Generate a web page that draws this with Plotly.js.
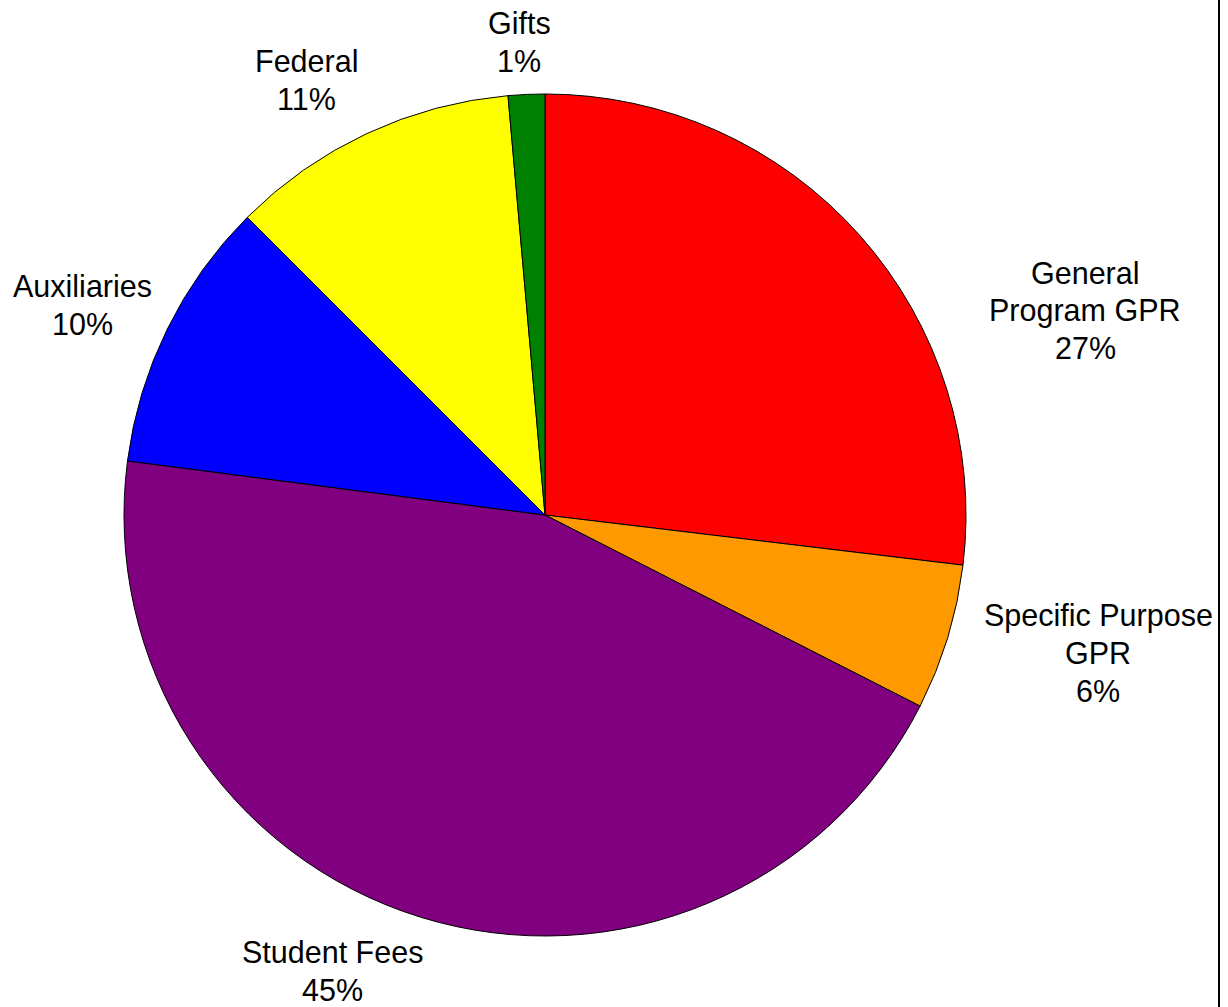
<!DOCTYPE html>
<html>
<head>
<meta charset="utf-8">
<script src="https://cdn.plot.ly/plotly-3.0.1.min.js"></script>
<style>
  html, body { margin: 0; padding: 0; background: #fff; }
  #chart { width: 1228px; height: 1007px; }
</style>
</head>
<body>
<div id="chart"></div>
<script>
// Data
const labels = ["General<br>Program GPR", "Specific Purpose<br>GPR", "Student Fees", "Auxiliaries", "Federal", "Gifts"];
const values = [26.9, 5.6, 44.55, 10.45, 11.1, 1.4];
const colors = ["#ff0000", "#ff9900", "#800080", "#0000ff", "#ffff00", "#008000"];

// Label placement (pixels in the 1228x1007 page, centre of label block)
const labelPos = [
  [1085, 310],
  [1098, 653],
  [332, 971],
  [82, 305],
  [306, 80],
  [519, 42]
];

const W = 1228, H = 1007;
const LINE = 37.5;
const total = values.reduce((a, b) => a + b, 0);

const annotations = [];
labels.forEach((lab, i) => {
  const lines = lab.split('<br>').concat([Math.round(values[i] * 100 / total) + '%']);
  const n = lines.length;
  lines.forEach((ln, k) => {
    const py = labelPos[i][1] + (k - (n - 1) / 2) * LINE;
    annotations.push({
      xref: 'paper', yref: 'paper',
      x: labelPos[i][0] / W,
      y: 1 - py / H,
      xanchor: 'center', yanchor: 'middle',
      text: ln,
      showarrow: false,
      font: { family: 'Liberation Sans, Arial, sans-serif', size: 30.5, color: '#000' }
    });
  });
});

const cx = 545, cy = 515, r = 421;

const trace = {
  type: 'pie',
  labels: labels,
  values: values,
  sort: false,
  direction: 'clockwise',
  rotation: 0,
  marker: { colors: colors, line: { color: '#000', width: 1 } },
  textinfo: 'none',
  hoverinfo: 'none',
  showlegend: false,
  domain: {
    x: [(cx - r) / W, (cx + r) / W],
    y: [(H - cy - r) / H, (H - cy + r) / H]
  }
};

const layout = {
  width: W, height: H,
  margin: { l: 0, r: 0, t: 0, b: 0 },
  paper_bgcolor: '#fff',
  showlegend: false,
  annotations: annotations,
  shapes: [{
    type: 'line', xref: 'paper', yref: 'paper',
    x0: 1219 / W, x1: 1219 / W, y0: 0, y1: 1,
    line: { color: '#000', width: 2 }
  }]
};

Plotly.newPlot('chart', [trace], layout, { displayModeBar: false, staticPlot: true });
</script>
</body>
</html>
